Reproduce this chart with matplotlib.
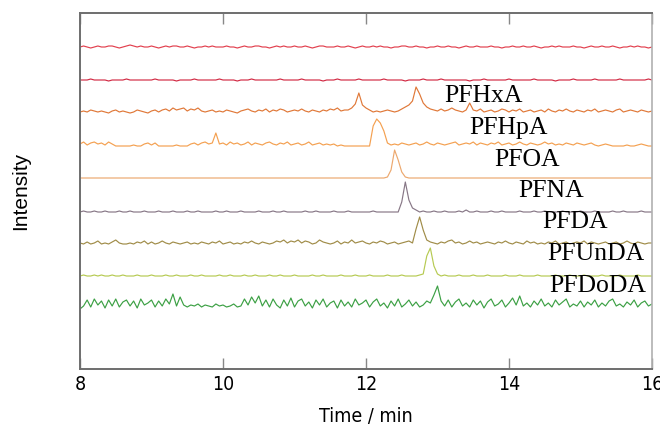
import matplotlib
matplotlib.use("Agg")
import matplotlib.pyplot as plt
import numpy as np

# Retention time grid (min)
t_start, t_step, n_pts = 8.0, 0.05, 161

compounds = ["PFHxA", "PFHpA", "PFOA", "PFNA", "PFDA", "PFUnDA", "PFDoDA"]

# Baseline offsets of the stacked traces (arbitrary intensity units), top to bottom
offsets = [322, 289, 256, 223, 191, 157, 125, 93, 60]

trace_blank1 = [
    0,1,0,-1,0,1,0,0,1,1,0,-1,0,1,2,1,0,1,0,0,
    1,0,-1,0,1,0,1,1,0,0,1,0,-1,0,0,1,0,1,0,0,
    0,1,0,0,-1,0,1,0,0,1,1,0,0,-1,0,1,0,1,0,0,
    1,0,0,1,0,-1,0,1,1,0,0,0,1,0,0,1,0,-1,0,1,
    0,0,1,0,1,0,0,-1,0,0,1,1,0,0,1,0,0,-1,0,0,
    1,0,0,1,0,0,-1,0,1,0,0,1,0,0,0,1,0,0,-1,0,
    0,1,0,0,1,0,0,1,0,-1,0,0,1,0,1,0,0,0,1,0,
    0,-1,0,1,0,0,1,0,0,1,0,-1,0,0,1,0,1,0,0,-1,
    0]
trace_blank2 = [
    0,0,0,1,0,0,0,0,-1,0,0,0,0,1,0,0,0,0,0,0,
    0,1,0,0,0,0,0,-1,0,0,0,0,1,0,0,0,0,0,0,1,
    0,0,0,0,-1,0,0,0,1,0,0,0,0,0,0,0,1,0,0,0,
    0,0,1,0,0,0,0,0,-1,0,0,0,1,0,0,0,0,0,1,0,
    0,0,0,0,0,1,0,0,0,0,0,-1,0,0,0,0,1,0,0,0,
    0,1,0,0,0,0,0,0,0,-1,0,0,0,1,0,0,0,0,0,0,
    1,0,0,0,0,0,0,1,0,0,0,0,0,-1,0,0,0,0,1,0,
    0,0,0,0,1,0,0,0,0,0,0,1,0,0,0,0,0,0,0,1,
    0]
trace_pfhxa = [
    1,2,1,3,2,1,2,1,0,2,3,1,2,1,0,1,3,2,1,0,
    2,3,1,3,4,2,5,3,4,5,2,4,3,5,2,1,2,3,1,2,
    1,3,2,1,0,2,3,4,2,1,3,2,4,1,3,2,4,3,1,2,
    3,2,4,2,1,3,2,1,3,2,4,3,5,2,3,3,5,9,20,8,
    5,3,1,2,1,2,3,2,1,2,4,6,8,12,26,19,10,6,4,3,
    2,4,2,3,5,3,2,1,3,10,3,2,4,1,2,3,1,2,4,3,
    1,3,2,4,1,2,3,1,2,3,1,4,2,1,3,2,4,2,1,3,
    2,1,3,2,4,1,2,3,2,1,3,4,1,2,3,2,1,3,2,1,
    2]
trace_pfhpa = [
    2,4,1,3,4,2,3,1,4,2,0,0,0,0,0,1,0,0,2,3,
    1,3,0,0,0,0,0,1,0,0,0,2,3,1,3,4,2,3,13,2,
    3,1,4,2,3,1,2,4,1,3,2,1,3,4,2,1,3,2,4,1,
    2,3,1,2,4,1,2,3,1,2,1,2,0,1,0,0,0,0,0,0,
    0,0,20,27,23,15,3,1,2,1,3,2,1,2,3,1,2,4,2,1,
    3,2,1,2,3,4,1,2,3,2,4,1,3,2,1,3,2,4,1,2,
    3,1,2,4,2,1,3,2,1,2,4,2,3,1,2,1,3,2,1,3,
    2,1,2,3,1,0,1,2,1,0,0,0,0,1,0,0,1,2,1,0,
    0]
trace_pfoa = [
    0,0,0,0,0,0,0,0,0,0,0,0,0,0,0,0,0,0,0,0,
    0,0,0,0,0,0,0,0,0,0,0,0,0,0,0,0,0,0,0,0,
    0,0,0,0,0,0,0,0,0,0,0,0,0,0,0,0,0,0,0,0,
    0,0,0,0,0,0,0,0,0,0,0,0,0,0,0,0,0,0,0,0,
    0,0,0,0,0,0,1,8,28,18,6,1,0,0,0,0,0,0,0,0,
    0,0,0,0,0,0,0,0,0,0,0,0,0,0,0,0,0,0,0,0,
    0,0,0,0,0,0,0,0,0,0,0,0,0,0,0,0,0,0,0,0,
    0,0,0,0,0,0,0,0,0,0,0,0,0,0,0,0,0,0,0,0,
    0]
trace_pfna = [
    0,1,0,0,1,0,0,1,0,0,0,1,0,0,1,0,0,0,1,0,
    0,0,1,0,0,0,1,0,0,0,1,0,0,1,0,0,0,0,1,0,
    0,1,0,0,0,1,0,0,0,0,1,0,0,0,1,0,0,1,0,0,
    0,0,0,1,0,0,1,0,0,0,0,1,0,0,0,1,0,0,0,0,
    0,0,1,0,0,0,0,0,0,0,10,30,12,4,2,0,1,0,0,1,
    0,0,1,0,0,0,1,0,2,0,0,1,0,0,0,1,0,0,1,0,
    0,0,0,1,0,0,0,1,0,0,1,0,0,0,0,1,0,0,0,0,
    1,0,0,0,1,0,0,0,0,1,0,0,1,0,0,0,0,1,0,0,
    0]
trace_pfda = [
    1,0,2,0,1,3,0,1,0,2,4,1,0,0,1,0,2,1,3,0,
    2,0,1,3,1,0,2,1,0,1,2,0,1,0,2,1,0,2,1,3,
    0,1,2,0,1,0,2,1,3,1,0,2,1,0,1,3,2,4,1,3,
    2,4,1,3,2,0,1,4,2,1,0,1,3,0,2,1,4,1,2,3,
    1,0,2,1,3,2,0,1,2,0,1,2,3,1,15,27,14,4,2,1,
    0,2,1,3,4,1,2,0,1,3,1,2,0,1,2,1,0,2,1,3,
    1,0,2,1,0,3,1,2,0,1,0,2,1,3,0,1,2,0,1,2,
    1,3,0,2,1,0,1,2,0,1,2,0,1,3,1,0,2,1,0,1,
    1]
trace_pfunda = [
    0,1,0,0,1,0,1,0,0,1,0,0,1,0,0,0,1,0,0,0,
    1,0,0,0,1,0,0,1,0,0,0,1,0,0,1,0,0,0,0,1,
    0,0,1,0,0,0,1,0,0,1,0,0,0,1,0,0,1,0,0,0,
    1,0,0,0,0,1,0,0,1,0,0,0,0,1,0,0,0,1,0,0,
    0,1,0,0,0,0,1,0,0,0,1,0,0,0,0,1,2,20,28,10,
    2,0,1,0,0,0,1,0,0,0,1,0,0,0,1,0,0,0,0,1,
    0,0,0,1,0,0,0,0,1,0,0,0,0,1,0,0,0,1,0,0,
    0,1,0,0,0,0,1,0,0,0,0,1,0,0,0,0,1,0,0,0,
    0]
trace_pfdoda = [
    0,3,9,2,10,4,8,1,9,3,10,2,7,9,3,8,1,10,4,6,
    9,2,8,3,10,5,15,3,12,4,2,4,3,5,2,4,3,2,5,3,
    4,2,3,5,2,3,10,4,12,6,13,3,9,2,10,4,1,9,3,11,
    2,8,10,3,7,1,9,4,10,2,6,8,1,9,3,7,2,10,4,6,
    9,2,7,10,3,6,1,8,3,10,2,5,9,3,7,2,4,8,6,14,
    23,8,3,9,2,7,10,3,6,2,9,4,8,1,7,10,3,5,9,2,
    6,11,4,13,3,6,2,8,4,10,3,6,2,9,4,7,10,2,5,3,
    8,2,7,4,9,2,6,3,8,10,3,5,2,7,4,9,2,6,8,3,
    5]

traces = [trace_blank1, trace_blank2, trace_pfhxa, trace_pfhpa, trace_pfoa,
          trace_pfna, trace_pfda, trace_pfunda, trace_pfdoda]
colors = ["#e2404e", "#d22a44", "#e07838", "#f4a050", "#eca86e",
          "#877786", "#a08c48", "#b6ca52", "#3ca044"]

# label anchor positions (time, intensity) -- layout only
label_pos = [(13.10, 267), (13.45, 235), (13.80, 203), (14.13, 172),
             (14.46, 141), (14.53, 109), (14.57, 77)]

fig = plt.figure(figsize=(6.6, 4.28), dpi=100)
ax = fig.add_axes([80/660, 59/428, 572/660, 356/428])

t = t_start + t_step * np.arange(n_pts)
for vals, off, c in zip(traces, offsets, colors):
    ax.plot(t, off + np.asarray(vals, dtype=float), color=c, lw=0.85)

for name, (x, y) in zip(compounds, label_pos):
    ax.text(x, y, name, family=["Liberation Serif", "DejaVu Serif"],
            fontsize=18.5, color="black", va="baseline", ha="left")

narrow = ["Liberation Sans Narrow", "DejaVu Sans"]

ax.set_xlim(8, 16)
ax.set_ylim(0, 356)
ax.set_xticks([8, 10, 12, 14, 16])
ax.set_xticklabels(["8", "10", "12", "14", "16"])
ax.set_yticks([])
ax.tick_params(axis="x", direction="in", length=8, width=1, color="#888888",
               top=True, labelsize=14, pad=4)
for lab in ax.get_xticklabels():
    lab.set_family(narrow)
    lab.set_fontstretch("condensed")

for side in ["left", "bottom", "top"]:
    ax.spines[side].set_color("#6e6e6e")
    ax.spines[side].set_linewidth(1.4)
ax.spines["right"].set_color("#b0b0b0")
ax.spines["right"].set_linewidth(1.2)

ax.set_xlabel("Time / min", family=narrow, fontstretch="condensed",
              fontsize=14, labelpad=10)
ax.set_ylabel("Intensity", family=["Liberation Sans", "DejaVu Sans"], fontsize=15,
              labelpad=36)

fig.savefig("out.png", dpi=100)
